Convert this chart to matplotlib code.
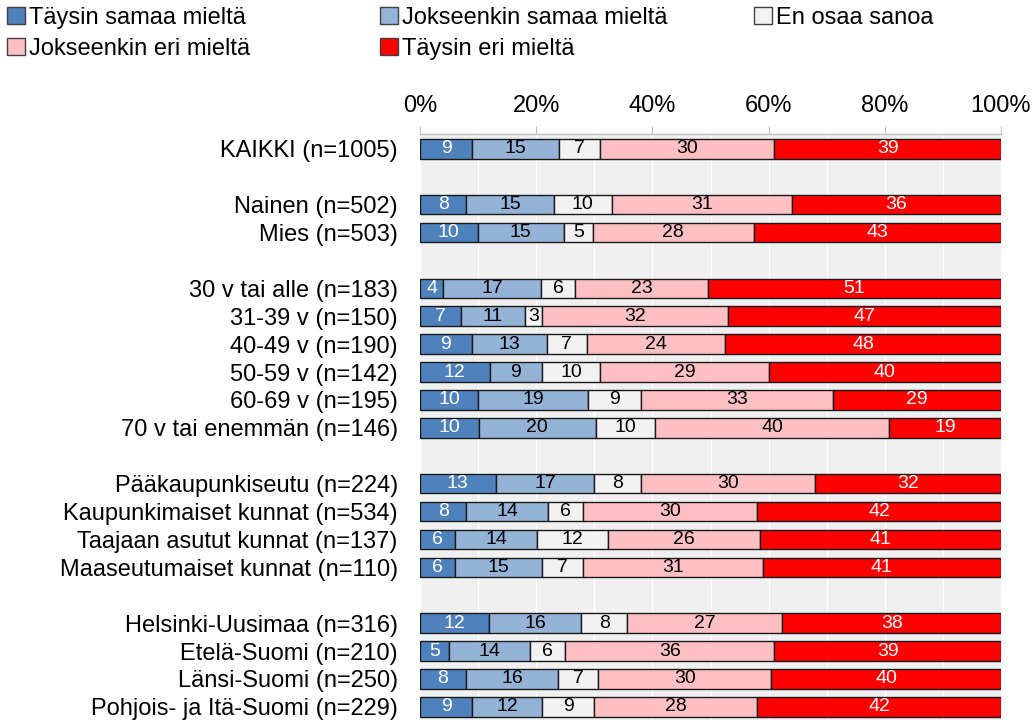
import matplotlib
matplotlib.use("Agg")
import matplotlib.pyplot as plt
from matplotlib.patches import Patch
import numpy as np

plt.rcParams['font.family'] = ['Liberation Sans', 'DejaVu Sans']

categories = [
    "KAIKKI (n=1005)", None,
    "Nainen (n=502)", "Mies (n=503)", None,
    "30 v tai alle (n=183)", "31-39 v (n=150)", "40-49 v (n=190)",
    "50-59 v (n=142)", "60-69 v (n=195)", "70 v tai enemmän (n=146)", None,
    "Pääkaupunkiseutu (n=224)", "Kaupunkimaiset kunnat (n=534)",
    "Taajaan asutut kunnat (n=137)", "Maaseutumaiset kunnat (n=110)", None,
    "Helsinki-Uusimaa (n=316)", "Etelä-Suomi (n=210)", "Länsi-Suomi (n=250)",
    "Pohjois- ja Itä-Suomi (n=229)",
]

series_names = ["Täysin samaa mieltä", "Jokseenkin samaa mieltä", "En osaa sanoa",
                "Jokseenkin eri mieltä", "Täysin eri mieltä"]

taysin_samaa = [9, 8, 10, 4, 7, 9, 12, 10, 10, 13, 8, 6, 6, 12, 5, 8, 9]
jokseenkin_samaa = [15, 15, 15, 17, 11, 13, 9, 19, 20, 17, 14, 14, 15, 16, 14, 16, 12]
en_osaa = [7, 10, 5, 6, 3, 7, 10, 9, 10, 8, 6, 12, 7, 8, 6, 7, 9]
jokseenkin_eri = [30, 31, 28, 23, 32, 24, 29, 33, 40, 30, 30, 26, 31, 27, 36, 30, 28]
taysin_eri = [39, 36, 43, 51, 47, 48, 40, 29, 19, 32, 42, 41, 41, 38, 39, 40, 42]

tick_values = [0, 20, 40, 60, 80, 100]
tick_labels = ["0%", "20%", "40%", "60%", "80%", "100%"]

colors = ["#4F81BD", "#95B3D7", "#F2F2F2", "#FFC0C4", "#FF0000"]
label_colors = ["white", "black", "black", "black", "white"]

W, H = 1033, 720
fig = plt.figure(figsize=(W / 100, H / 100), dpi=100)
ax = fig.add_axes([420 / W, 0, (1001 - 420) / W, 1 - 134 / H])

positions = [i for i, c in enumerate(categories) if c is not None]
labels = [c for c in categories if c is not None]
data = np.array([taysin_samaa, jokseenkin_samaa, en_osaa, jokseenkin_eri, taysin_eri], dtype=float)
totals = data.sum(axis=0)
pct = data / totals * 100

left = np.zeros(len(positions))
for k in range(5):
    bars = ax.barh(positions, pct[k], left=left, height=0.7, color=colors[k],
                   edgecolor="#1a1a1a", linewidth=1.0, zorder=3)
    for j, b in enumerate(bars):
        v = data[k][j]
        ax.text(left[j] + pct[k][j] / 2, positions[j], f"{int(v)}",
                ha="center", va="center", fontsize=14, color=label_colors[k], zorder=4)
    left += pct[k]

ax.set_xlim(0, 100)
ax.set_ylim(20.47, -0.53)
ax.set_facecolor("#F0F0F0")
ax.set_xticks(np.arange(0, 101, 10), minor=True)
ax.grid(axis="x", which="both", color="white", linewidth=1.0, zorder=0)
ax.set_axisbelow(True)
ax.xaxis.tick_top()
ax.set_xticks(tick_values)
ax.set_xticklabels(tick_labels, fontsize=17)
ax.tick_params(axis="x", which="major", direction="out", length=6, color="#BFBFBF",
               pad=6)
ax.tick_params(axis="x", which="minor", length=0)
ax.set_yticks(positions)
ax.set_yticklabels(labels, fontsize=17)
ax.tick_params(axis="y", length=0, pad=16)
for s in ["bottom", "left", "right"]:
    ax.spines[s].set_visible(False)
ax.spines["top"].set_color("#BFBFBF")
ax.spines["top"].set_linewidth(1.0)

handles = [Patch(facecolor=colors[k], edgecolor="#404040", linewidth=1.0, label=series_names[k])
           for k in range(5)]
leg_cols = [[0, 3], [1, 4], [2]]
xs = [7, 380, 754]
for col, x in zip(leg_cols, xs):
    fig.legend(handles=[handles[k] for k in col], loc="upper left",
               bbox_to_anchor=(x / W, 1 - 7 / H), frameon=False, fontsize=17,
               handlelength=0.75, handleheight=0.75, handletextpad=0.2,
               borderpad=0, borderaxespad=0, labelspacing=0.38)

fig.savefig("out.png", dpi=100)
